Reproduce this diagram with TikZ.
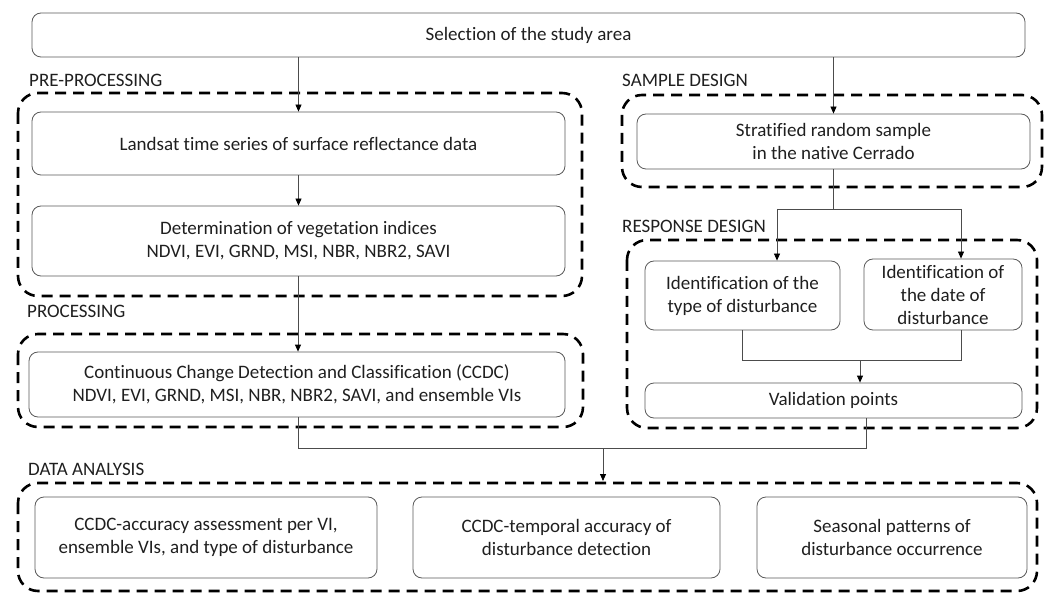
\documentclass[tikz,border=0pt]{standalone}
\usepackage{fontspec}
\setmainfont{Carlito}[Ligatures=NoCommon]
\usetikzlibrary{arrows.meta,calc}
\begin{document}
\begin{tikzpicture}[x=1pt,y=-1pt,
  box/.style={draw=black!65, line width=0.8pt, rounded corners=9pt, align=center,
    font=\fontsize{19}{23}\selectfont, text=black!88, inner sep=0pt},
  group/.style={draw=black, line width=2.6pt, dash pattern=on 11pt off 7pt, rounded corners=20pt},
  lab/.style={anchor=west, font=\fontsize{19}{23}\selectfont, text=black!88, inner sep=0pt},
  conn/.style={draw=black!70, line width=0.8pt},
  arr/.style={conn, -{Triangle[length=7pt,width=6pt,fill=black,color=black]}}]
\useasboundingbox (0,0) rectangle (1046,593);

% group frames
\draw[group] (18,93) rectangle (582,296);
\draw[group] (622,95) rectangle (1042,187);
\draw[group] (627,240) rectangle (1037,428);
\draw[group] (18,334) rectangle (583,427);
\draw[group] (18,483) rectangle (1037,591);

% labels
\node[lab] (lpre) at (29,80) {PRE-PROCESSING};
\node[lab] (lsam) at (622,80) {SAMPLE DESIGN};
\node[lab] (lres) at (622,226) {RESPONSE DESIGN};
\node[lab] (lpro) at (27,311) {PROCESSING};
\node[lab] (ldat) at (28,469) {DATA ANALYSIS};

% boxes
\node[box, minimum width=993pt, minimum height=44pt] (top) at (528.5,35) {Selection of the study area};
\node[box, minimum width=533pt, minimum height=63pt] (landsat) at (298.5,143.5) {Landsat time series of surface reflectance data};
\node[box, minimum width=533pt, minimum height=70pt] (det) at (298.5,241) {Determination of vegetation indices\\NDVI, EVI, GRND, MSI, NBR, NBR2, SAVI};
\node[box, minimum width=536pt, minimum height=65pt] (ccdc) at (297,384.5) {Continuous Change Detection and Classification (CCDC)\\NDVI, EVI, GRND, MSI, NBR, NBR2, SAVI, and ensemble VIs};
\node[box, minimum width=393pt, minimum height=55pt] (strat) at (833.5,141.5) {Stratified random sample\\in the native Cerrado};
\node[box, minimum width=195pt, minimum height=69pt] (id1) at (742.5,295.5) {Identification of the\\type of disturbance};
\node[box, minimum width=158pt, minimum height=71pt] (id2) at (943,294.5) {Identification of\\the date of\\disturbance};
\node[box, minimum width=377pt, minimum height=35pt] (val) at (833.5,400.5) {Validation points};
\node[box, minimum width=342pt, minimum height=81pt] (da1) at (206,537.5) {CCDC-accuracy assessment per VI,\\ensemble VIs, and type of disturbance};
\node[box, minimum width=307pt, minimum height=81pt] (da2) at (566.5,537.5) {CCDC-temporal accuracy of\\disturbance detection};
\node[box, minimum width=270pt, minimum height=81pt] (da3) at (892,537.5) {Seasonal patterns of\\disturbance occurrence};

% helper coordinates
\coordinate (split) at (833.5,209);
\coordinate (s1) at (777,209);
\coordinate (s2) at (961,209);
\coordinate (j1) at (742,360);
\coordinate (j2) at (961,360);
\coordinate (jm) at (860,360);
\coordinate (h1) at (298,448);
\coordinate (h2) at (866,448);
\coordinate (hm) at (603,448);
\coordinate (dtop) at (603,481);

% connectors
\draw[arr] (top.south -| landsat.north) -- (landsat.north);
\draw[arr] (top.south -| strat.north) -- (strat.north);
\draw[arr] (landsat.south) -- (det.north);
\draw[arr] (det.south -| 298,0) -- (ccdc.north -| 298,0);
\draw[conn] (strat.south) -- (split);
\draw[conn] (s1) -- (s2);
\draw[arr] (s1) -- (s1 |- id1.north);
\draw[arr] (s2) -- (s2 |- id2.north);
\draw[conn] (j1 |- id1.south) -- (j1) -- (j2) -- (j2 |- id2.south);
\draw[arr] (jm) -- (jm |- val.north);
\draw[conn] (h2 |- val.south) -- (h2) -- (h1) -- (h1 |- ccdc.south);
\draw[arr] (hm) -- (dtop);
\end{tikzpicture}
\end{document}
